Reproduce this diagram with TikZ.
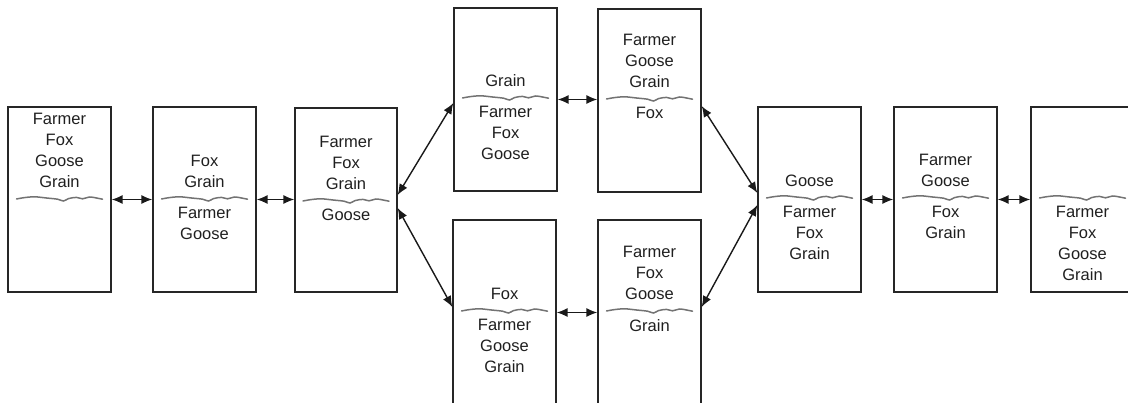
\documentclass[tikz,border=0pt]{standalone}
\usepackage{fontspec}
\setmainfont{Liberation Sans}
\usetikzlibrary{arrows.meta}

\tikzset{
  box/.style={draw=black!85, line width=1.3pt, minimum width=103pt,
    minimum height=185pt, inner sep=0pt},
  upper/.style={anchor=south, inner sep=0pt, align=center,
    text=black!88, font=\fontsize{16.5}{21}\selectfont},
  lower/.style={anchor=north, inner sep=0pt, align=center,
    text=black!88, font=\fontsize{16.5}{21}\selectfont},
  link/.style={line width=1.4pt, black!90,
    {Latex[length=11pt,width=9pt]}-{Latex[length=11pt,width=9pt]}},
  wavy/.pic={
    \draw[gray!90!black, line width=1.5pt, line cap=round]
      plot[smooth, tension=0.6] coordinates {(-43,1) (-35,-0.4) (-25,-1.2)
        (-13,0) (-2,1.2) (4,3) (9,0.6) (17,-0.6) (23,0.8) (30,-1)
        (37,0) (43,1.2)};
  }
}

\begin{document}
\begin{tikzpicture}[x=1pt, y=-1pt]
\useasboundingbox (0,0) rectangle (1128,402);
\clip (0,0) rectangle (1128,402);

% states on the far bank / near bank
\node[box] (b1) at (59.5,199.5) {};
\node[box] (b2) at (204.5,199.5) {};
\node[box, minimum width=102pt, minimum height=184pt] (b3) at (346,200) {};
\node[box, minimum height=183pt] (b4) at (505.5,99.5) {};
\node[box, minimum height=183pt] (b5) at (649.5,100.5) {};
\node[box] (b6) at (504.5,312.5) {};
\node[box] (b7) at (649.5,312.5) {};
\node[box] (b8) at (809.5,199.5) {};
\node[box] (b9) at (945.5,199.5) {};
\node[box] (b10) at (1082.5,199.5) {};

% river lines
\pic at (59.5,198) {wavy};
\pic at (204.5,198) {wavy};
\pic at (346,200) {wavy};
\pic at (505.5,97) {wavy};
\pic at (649.5,98) {wavy};
\pic at (504.5,310) {wavy};
\pic at (649.5,310) {wavy};
\pic at (809.5,197) {wavy};
\pic at (945.5,197) {wavy};
\pic at (1082.5,197) {wavy};

% who is on which side
\node[upper] (u1) at (59.5,188) {Farmer\\Fox\\Goose\\Grain};
\node[upper] (u2) at (204.5,188) {Fox\\Grain};
\node[lower] (l2) at (204.5,207) {Farmer\\Goose};
\node[upper] (u3) at (346,190) {Farmer\\Fox\\Grain};
\node[lower] (l3) at (346,209) {Goose};
\node[upper] (u4) at (505.5,87) {Grain};
\node[lower] (l4) at (505.5,106) {Farmer\\Fox\\Goose};
\node[upper] (u5) at (649.5,88) {Farmer\\Goose\\Grain};
\node[lower] (l5) at (649.5,107) {Fox};
\node[upper] (u6) at (504.5,300) {Fox};
\node[lower] (l6) at (504.5,319) {Farmer\\Goose\\Grain};
\node[upper] (u7) at (649.5,300) {Farmer\\Fox\\Goose};
\node[lower] (l7) at (649.5,319) {Grain};
\node[upper] (u8) at (809.5,187) {Goose};
\node[lower] (l8) at (809.5,206) {Farmer\\Fox\\Grain};
\node[upper] (u9) at (945.5,187) {Farmer\\Goose};
\node[lower] (l9) at (945.5,206) {Fox\\Grain};
\node[lower] (l10) at (1082.5,206) {Farmer\\Fox\\Goose\\Grain};

% crossings
\draw[link] (b1.east) -- (b2.west);
\draw[link] (b2.east) -- (b3.west |- b2.east);
\draw[link] ([yshift=5pt]b3.east) -- ([yshift=-3.5pt]b4.west);
\draw[link] ([yshift=-8pt]b3.east) -- ([yshift=5.5pt]b6.west);
\draw[link] (b4.east) -- (b5.west |- b4.east);
\draw[link] (b6.east) -- (b7.west);
\draw[link] ([yshift=-5.5pt]b5.east) -- ([yshift=6.5pt]b8.west);
\draw[link] ([yshift=5.5pt]b7.east) -- ([yshift=-5.5pt]b8.west);
\draw[link] (b8.east) -- (b9.west);
\draw[link] (b9.east) -- (b10.west);
\end{tikzpicture}
\end{document}
